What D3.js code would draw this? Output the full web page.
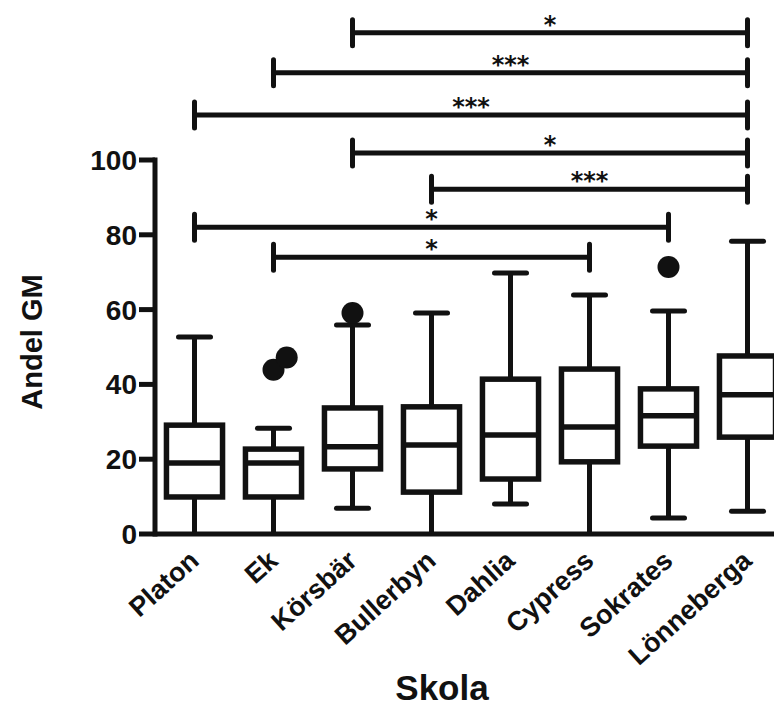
<!DOCTYPE html>
<html>
<head>
<meta charset="utf-8">
<script src="https://cdn.jsdelivr.net/npm/d3@7"></script>
<style>
  body { margin: 0; background: #fff; }
  svg { display: block; font-family: "Liberation Sans", Arial, sans-serif; }
</style>
</head>
<body>
<div id="chart"></div>
<script>
// schools and box statistics (Andel GM)
const schools = ["Platon", "Ek", "Körsbär", "Bullerbyn", "Dahlia", "Cypress", "Sokrates", "Lönneberga"];
const whiskerLow  = [0,    0,    6.9,  0,    8.0,  0,    4.3,  6.1];
const q1          = [9.9,  9.9,  17.4, 11.2, 14.7, 19.3, 23.5, 25.9];
const median      = [19.0, 19.0, 23.3, 23.8, 26.5, 28.6, 31.6, 37.2];
const q3          = [29.1, 22.7, 33.7, 34.0, 41.4, 44.1, 38.8, 47.6];
const whiskerHigh = [52.7, 28.3, 55.9, 59.1, 69.8, 63.9, 59.6, 78.3];
const outliers    = [[], [43.9, 47.2], [59.1], [], [], [], [71.4], []];

// significance brackets
const bracketFrom  = ["Körsbär", "Ek", "Platon", "Körsbär", "Bullerbyn", "Platon", "Ek"];
const bracketTo    = ["Lönneberga", "Lönneberga", "Lönneberga", "Lönneberga", "Lönneberga", "Sokrates", "Cypress"];
const bracketLevel = [134, 123.3, 112, 101.9, 92.2, 82, 74];
const bracketStars = ["*", "***", "***", "*", "***", "*", "*"];

const yTicks = [0, 20, 40, 60, 80, 100];

const width = 774, height = 708;

const svg = d3.select("#chart").append("svg")
  .attr("width", width)
  .attr("height", height);

const x = d3.scaleBand()
  .domain(schools)
  .range([155, 787])
  .padding(0);

const y = d3.scaleLinear()
  .domain([0, 100])
  .range([534, 160]);

const cx = s => x(s) + x.bandwidth() / 2;
const boxW = x.bandwidth() * 0.71;
const capW = 32;
const dotR = 11;

const stats = schools.map((s, i) => ({
  name: s, lo: whiskerLow[i], q1: q1[i], med: median[i], q3: q3[i], hi: whiskerHigh[i], out: outliers[i]
}));

const g = svg.append("g").attr("stroke", "#111").attr("fill", "none");

// whiskers
g.selectAll("line.wlow").data(stats).join("line")
  .attr("x1", d => cx(d.name)).attr("x2", d => cx(d.name))
  .attr("y1", d => y(d.lo)).attr("y2", d => y(d.q1))
  .attr("stroke-width", 5);
g.selectAll("line.whigh").data(stats).join("line")
  .attr("x1", d => cx(d.name)).attr("x2", d => cx(d.name))
  .attr("y1", d => y(d.q3)).attr("y2", d => y(d.hi))
  .attr("stroke-width", 5);

// caps (none where whisker reaches 0, it sits on the axis)
g.selectAll("line.caplo").data(stats.filter(d => d.lo > 0)).join("line")
  .attr("x1", d => cx(d.name) - capW / 2).attr("x2", d => cx(d.name) + capW / 2)
  .attr("y1", d => y(d.lo)).attr("y2", d => y(d.lo))
  .attr("stroke-width", 5).attr("stroke-linecap", "round");
g.selectAll("line.caphi").data(stats).join("line")
  .attr("x1", d => cx(d.name) - capW / 2).attr("x2", d => cx(d.name) + capW / 2)
  .attr("y1", d => y(d.hi)).attr("y2", d => y(d.hi))
  .attr("stroke-width", 5).attr("stroke-linecap", "round");

// boxes
g.selectAll("rect").data(stats).join("rect")
  .attr("x", d => cx(d.name) - boxW / 2)
  .attr("y", d => y(d.q3))
  .attr("width", boxW)
  .attr("height", d => y(d.q1) - y(d.q3))
  .attr("fill", "#fff")
  .attr("stroke-width", 5.5);

g.selectAll("line.med").data(stats).join("line")
  .attr("x1", d => cx(d.name) - boxW / 2).attr("x2", d => cx(d.name) + boxW / 2)
  .attr("y1", d => y(d.med)).attr("y2", d => y(d.med))
  .attr("stroke-width", 5.5);

// outliers, dodged sideways when they would overlap
const dots = [];
stats.forEach(d => {
  let prev = null, shift = 0;
  d.out.slice().sort((a, b) => a - b).forEach(v => {
    if (prev !== null && Math.abs(y(v) - y(prev)) < dotR * 2) shift += dotR * 1.2;
    else shift = 0;
    dots.push({ name: d.name, v: v, shift: shift });
    prev = v;
  });
});
svg.selectAll("circle").data(dots).join("circle")
  .attr("cx", d => cx(d.name) + d.shift)
  .attr("cy", d => y(d.v))
  .attr("r", dotR)
  .attr("fill", "#111");

// axes
const yAxis = svg.append("g");
yAxis.append("line")
  .attr("x1", 155).attr("x2", 155)
  .attr("y1", y(100) - 2.5).attr("y2", y(0) + 2.5)
  .attr("stroke", "#111").attr("stroke-width", 5);
yAxis.selectAll("line.tick").data(yTicks).join("line")
  .attr("x1", 139).attr("x2", 155)
  .attr("y1", d => y(d)).attr("y2", d => y(d))
  .attr("stroke", "#111").attr("stroke-width", 5);
yAxis.selectAll("text").data(yTicks).join("text")
  .attr("x", 137)
  .attr("y", d => y(d))
  .attr("dy", "0.36em")
  .attr("text-anchor", "end")
  .attr("font-size", 28)
  .attr("font-weight", "bold")
  .attr("fill", "#111")
  .text(d => d);

svg.append("line")
  .attr("x1", 155).attr("x2", width)
  .attr("y1", y(0)).attr("y2", y(0))
  .attr("stroke", "#111").attr("stroke-width", 5);

svg.append("g").selectAll("text").data(schools).join("text")
  .attr("transform", d => `translate(${cx(d) + 6},563) rotate(-42)`)
  .attr("text-anchor", "end")
  .attr("font-size", 27)
  .attr("font-weight", "bold")
  .attr("fill", "#111")
  .text(d => d);

svg.append("text")
  .attr("transform", "translate(42,342) rotate(-90)")
  .attr("text-anchor", "middle")
  .attr("font-size", 29)
  .attr("font-weight", "bold")
  .attr("fill", "#111")
  .text("Andel GM");

svg.append("text")
  .attr("x", 442).attr("y", 700)
  .attr("text-anchor", "middle")
  .attr("font-size", 35)
  .attr("font-weight", "bold")
  .attr("fill", "#111")
  .text("Skola");

// significance brackets
const brackets = bracketFrom.map((f, i) => ({ from: f, to: bracketTo[i], level: bracketLevel[i], stars: bracketStars[i] }));
const bg = svg.append("g").attr("stroke", "#111").attr("stroke-width", 5).attr("stroke-linecap", "round");
bg.selectAll("line.h").data(brackets).join("line")
  .attr("x1", d => cx(d.from)).attr("x2", d => cx(d.to))
  .attr("y1", d => y(d.level)).attr("y2", d => y(d.level))
  .attr("stroke-linecap", "butt");
bg.selectAll("line.l").data(brackets).join("line")
  .attr("x1", d => cx(d.from)).attr("x2", d => cx(d.from))
  .attr("y1", d => y(d.level) - 13).attr("y2", d => y(d.level) + 13);
bg.selectAll("line.r").data(brackets).join("line")
  .attr("x1", d => cx(d.to)).attr("x2", d => cx(d.to))
  .attr("y1", d => y(d.level) - 13).attr("y2", d => y(d.level) + 13);
svg.append("g").selectAll("text").data(brackets).join("text")
  .attr("x", d => (cx(d.from) + cx(d.to)) / 2)
  .attr("y", d => y(d.level))
  .attr("text-anchor", "middle")
  .attr("font-family", "'DejaVu Sans', sans-serif")
  .attr("font-weight", "bold")
  .attr("font-size", 24)
  .attr("fill", "#111")
  .text(d => d.stars);
</script>
</body>
</html>
